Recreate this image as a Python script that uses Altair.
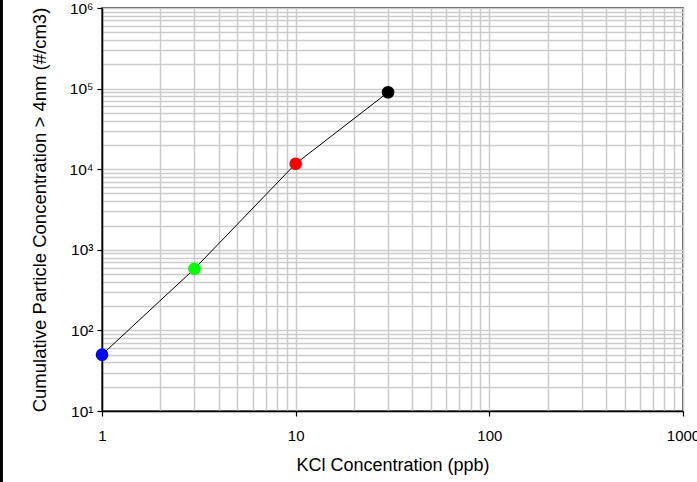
import altair as alt
import pandas as pd

# KCl concentration (ppb) vs. cumulative particle concentration > 4 nm (#/cm3)
kcl_ppb = [1, 3, 10, 30]
particle_conc = [50, 580, 11700, 90000]
point_colors = ["#0000ff", "#00ff00", "#ff0000", "#000000"]

# gridline positions: every 1..9 multiple of each decade
x_grid = [m * 10 ** e for e in range(0, 3) for m in range(1, 10)] + [1000]
y_grid = [m * 10 ** e for e in range(1, 6) for m in range(1, 10)] + [1000000]

df = pd.DataFrame({"kcl": kcl_ppb, "conc": particle_conc, "color": point_colors})

FONT = "Liberation Sans"
major = "abs(log(datum.value)/LN10 - round(log(datum.value)/LN10)) < 0.001"
sup = "['\u2070','\u00b9','\u00b2','\u00b3','\u2074','\u2075','\u2076']"

x_axis = alt.Axis(
    values=x_grid,
    grid=True, gridColor="#cccccc", gridWidth=1.5,
    tickOpacity={"condition": {"test": major, "value": 1}, "value": 0},
    tickSize=5, tickColor="black", tickWidth=1.2,
    domainColor="black", domainWidth=1.5,
    labelExpr=f"({major}) ? format(datum.value, 'd') : ''",
    labelOverlap=False, labelFlush=False, labelBound=False,
    labelFont=FONT, labelFontSize=15, labelColor="black",
    labelPadding=12,
    title="KCl Concentration (ppb)", titleFont=FONT, titleFontSize=18,
    titleFontWeight="normal", titleColor="black", titlePadding=13,
)

y_axis = alt.Axis(
    values=y_grid,
    grid=True, gridColor="#cccccc", gridWidth=1.5,
    tickOpacity={"condition": {"test": major, "value": 1}, "value": 0},
    tickSize=5, tickColor="black", tickWidth=1.2,
    domainColor="black", domainWidth=1.5,
    labelExpr=f"({major}) ? '10' + {sup}[round(log(datum.value)/LN10)] : ''",
    labelOverlap=False, labelFlush=False, labelBound=False,
    labelFont=FONT, labelFontSize=15.5, labelColor="black",
    labelPadding=4,
    title="Cumulative Particle Concentration > 4nm (#/cm3)", titleFont=FONT,
    titleFontSize=18.5, titleFontWeight="normal", titleColor="black", titlePadding=20,
)

x_enc = alt.X("kcl:Q", scale=alt.Scale(type="log", domain=[1, 1000], nice=False), axis=x_axis)
y_enc = alt.Y("conc:Q", scale=alt.Scale(type="log", domain=[10, 1000000], nice=False), axis=y_axis)

line = alt.Chart(df).mark_line(color="black", strokeWidth=1).encode(x=x_enc, y=y_enc)
points = alt.Chart(df).mark_circle(size=160, opacity=1).encode(
    x="kcl:Q", y="conc:Q", color=alt.Color("color:N", scale=None)
)

# dark strip along the left edge of the figure
edge = alt.Chart(df).mark_rule(color="black", strokeWidth=3).encode(
    x=alt.value(-101), y=alt.value(-8), y2=alt.value(474)
)

chart = (
    alt.layer(line, points, edge)
    .properties(
        width=581, height=403,
        autosize=alt.AutoSizeParams(type="none"),
        padding={"left": 102, "top": 8, "right": 14, "bottom": 71},
        background="white",
    )
    .configure_view(stroke="#222222", strokeWidth=1.5)
)

chart.save("out.html", embed_options={"renderer": "svg", "actions": False})
